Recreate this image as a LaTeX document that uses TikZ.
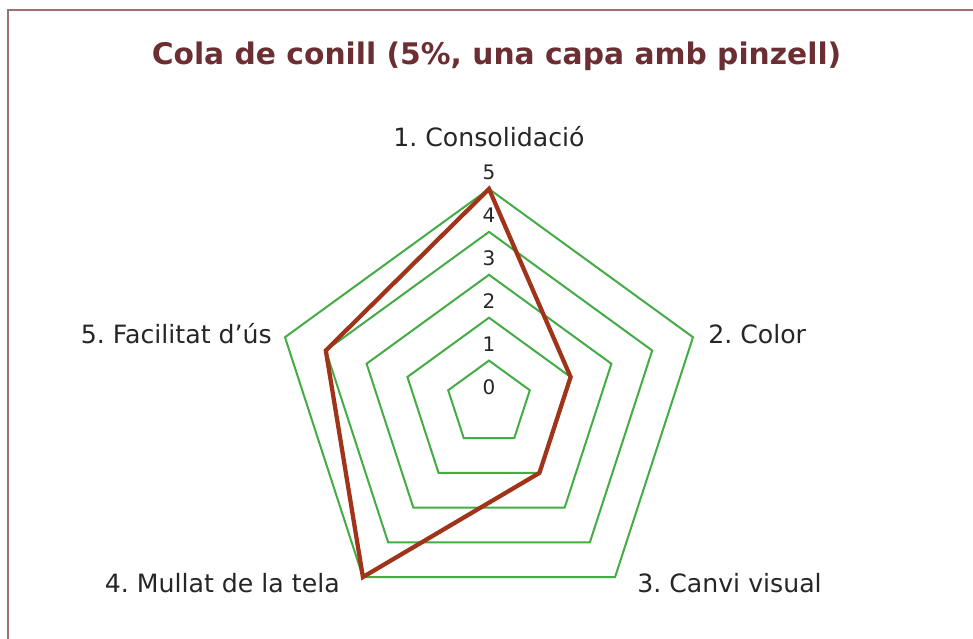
\documentclass[tikz,border=0pt]{standalone}
\usepackage{fontspec}
\setmainfont{DejaVu Sans}
\frenchspacing
\definecolor{titlemaroon}{HTML}{6B2F33}
\definecolor{framemaroon}{HTML}{9E7072}
\definecolor{gridgreen}{HTML}{43AC45}
\definecolor{seriesrust}{HTML}{A0341A}
\definecolor{labelgray}{HTML}{262626}
\newcommand{\unitr}{42.9}
\newcommand{\drawring}[1]{
\pgfmathsetmacro{\rr}{\unitr*#1}
    \draw[ring] (90:\rr) -- (18:\rr) -- (-54:\rr) -- (-126:\rr) -- (162:\rr) -- cycle;
}
\tikzset{
  ring/.style={gridgreen, line width=1.5pt, line join=miter},
  series/.style={seriesrust, line width=3.2pt, line join=miter},
  axislabel/.style={labelgray, font=\fontsize{18.9}{22}\selectfont, inner sep=0pt},
  ticklabel/.style={labelgray, font=\fontsize{15}{18}\selectfont, inner sep=0pt, anchor=base}
}

\begin{document}
\begin{tikzpicture}[x=0.75pt,y=0.75pt]
\useasboundingbox (-489,-234.5) rectangle (484,403.5);
% frame
\draw[framemaroon, line width=0.9pt] (-481,-236) -- (-481,393.5) -- (486,393.5);
% title
\node[titlemaroon, font=\fontsize{22.3}{26}\selectfont\bfseries, anchor=base, inner sep=0pt] (title) at (7.5,338.5) {Cola de conill (5\%, una capa amb pinzell)};
% grid
\foreach \k in {1,2,...,5} {
  \drawring{\k}
}
\foreach \k in {0,1,...,5} {
  \node[ticklabel] (tick\k) at (0,\unitr*\k+9) {\k};
}
% data
\coordinate (p1) at (90:5*\unitr);
\coordinate (p2) at (18:2*\unitr);
\coordinate (p3) at (-54:2*\unitr);
\coordinate (p4) at (-126:5*\unitr);
\coordinate (p5) at (162:4*\unitr);
\draw[series] (p1) -- (p2) -- (p3) -- (p4) -- (p5) -- cycle;
% axis names
\node[axislabel, anchor=base] (ax1) at (0,256.8) {1. Consolidació};
\node[axislabel, anchor=base west] (ax2) at (219,59.5) {2. Color};
\node[axislabel, anchor=base west] (ax3) at (148,-189.2) {3. Canvi visual};
\node[axislabel, anchor=base east] (ax4) at (-149,-189.2) {4. Mullat de la tela};
\node[axislabel, anchor=base east] (ax5) at (-217,59.5) {5. Facilitat d’ús};
\end{tikzpicture}
\end{document}
